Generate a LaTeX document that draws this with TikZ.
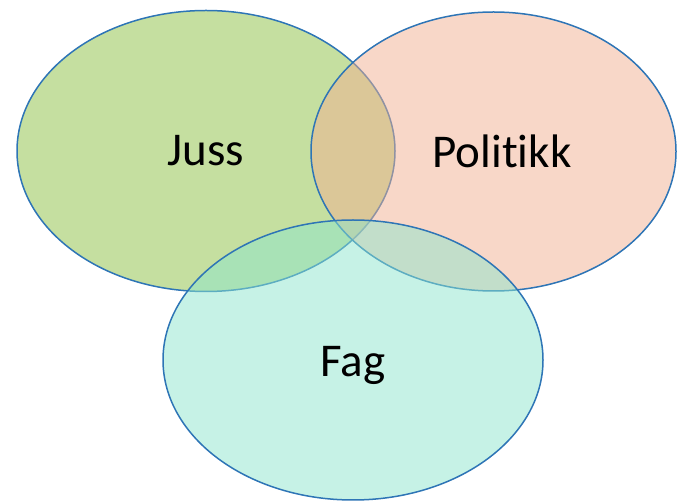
\documentclass[tikz,border=0pt]{standalone}
\usepackage{fontspec}
\setmainfont[Ligatures=NoCommon]{Carlito}
\usetikzlibrary{shapes.geometric}
\definecolor{jussgreen}{HTML}{8BBF41}
\definecolor{polpink}{HTML}{F1AF91}
\definecolor{fagcyan}{HTML}{8DE5CD}
\definecolor{rimblue}{HTML}{2E75B6}
\begin{document}
\begin{tikzpicture}[x=1pt, y=1pt,
    set/.style={draw=rimblue, line width=1.5pt, ellipse, inner sep=0pt,
      fill opacity=0.5, text opacity=1, font=\fontsize{47}{50}\selectfont}]
            \useasboundingbox (0,0) rectangle (677,503);
            \node[set, fill=jussgreen, minimum width=378, minimum height=281] (J) at (206,352) {Juss};
            \node[set, fill=polpink, minimum width=365, minimum height=279] (P) at (493.5,351.5) {};
            \node[set, fill=fagcyan, minimum width=380, minimum height=280] (F) at (353,143) {};

            \node[font=\fontsize{47}{50}\selectfont] (Pt) at (502,352) {Politikk};
            \node[font=\fontsize{47}{50}\selectfont] (Ft) at (353,138) {Fag};
        \end{tikzpicture}
\end{document}
